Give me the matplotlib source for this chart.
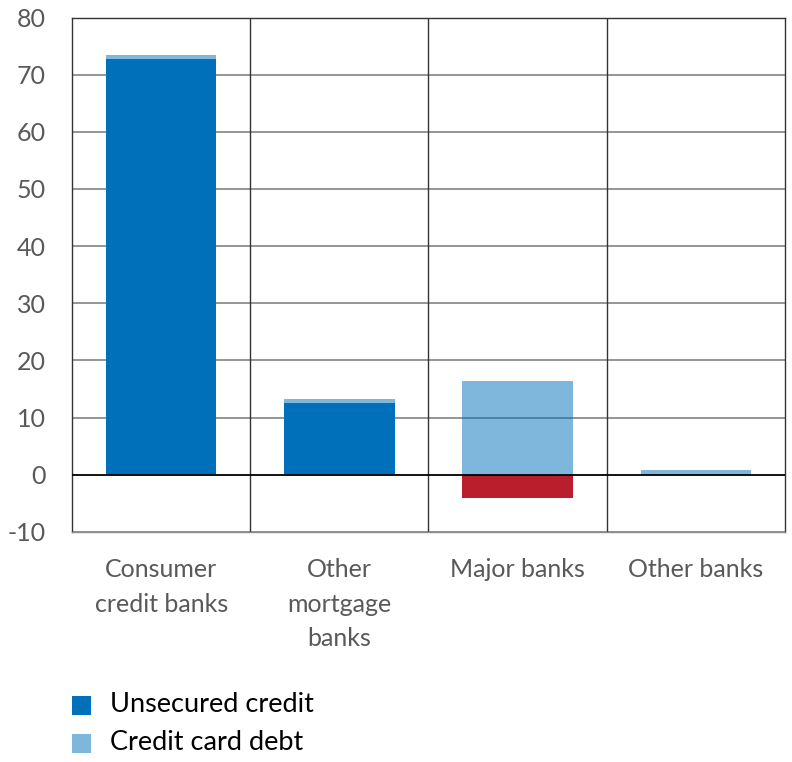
import matplotlib.pyplot as plt
import numpy as np

categorias = ["Consumer\ncredit banks", "Other\nmortgage\nbanks", "Major banks", "Other banks"]
unsecured = [72.7, 12.6, -4.0, 0.0]
credit_card = [0.7, 0.7, 16.4, 0.9]

azul = "#0070BA"
rojo = "#BA1E2D"
gris_texto = "#595959"

plt.rcParams['font.family'] = ['Lato', 'DejaVu Sans']

fig = plt.figure(figsize=(7.92, 7.62), dpi=100)
ax = fig.add_axes([0.091, 0.302, 0.900, 0.675])

x = np.arange(len(categorias))
ancho = 0.62

# Unsecured: negativos en rojo
colores = [azul if v >= 0 else rojo for v in unsecured]
ax.bar(x, unsecured, ancho, color=colores, zorder=2)

# Credit card se apila sobre la parte positiva
base = [max(v, 0) for v in unsecured]
ax.bar(x, credit_card, ancho, bottom=base, color=azul, alpha=0.5, zorder=3)

ax.set_ylim(-10, 80)
ax.set_xlim(-0.5, len(categorias) - 0.5)
ax.set_yticks(np.arange(-10, 81, 10))
ax.set_yticklabels([str(v) for v in range(-10, 81, 10)], fontsize=18, color=gris_texto)

for y in range(-10, 81, 10):
    if y == 0:
        ax.axhline(y, color="black", lw=1.3, zorder=4)
    else:
        ax.axhline(y, color="#8c8c8c", lw=1.3, zorder=1)
for xv in np.arange(0.5, len(categorias) - 0.5, 1):
    ax.axvline(xv, color="#333333", lw=1.0, zorder=1)

for s in ax.spines.values():
    s.set_color("#333333")
    s.set_linewidth(1.0)
ax.spines['bottom'].set_color("#8c8c8c")

ax.tick_params(axis='y', length=0, pad=19)
ax.tick_params(axis='x', length=0, pad=19)
ax.set_xticks(x)
ax.set_xticklabels(categorias, fontsize=18, color=gris_texto, linespacing=1.6, va='top')

# Leyenda abajo
lado_w = 19 / 792
lado_h = 19 / 762
for yc, etiqueta, alfa in [(705, "Unsecured credit", 1.0), (743, "Credit card debt", 0.5)]:
    yf = 1 - yc / 762
    fig.patches.append(plt.Rectangle((72 / 792, yf - lado_h / 2), lado_w, lado_h,
                                     color=azul, alpha=alfa, lw=0, transform=fig.transFigure))
    fig.text(110 / 792, yf, etiqueta, fontsize=19.5, va='center', color="black")

fig.savefig("out.png", dpi=100)
